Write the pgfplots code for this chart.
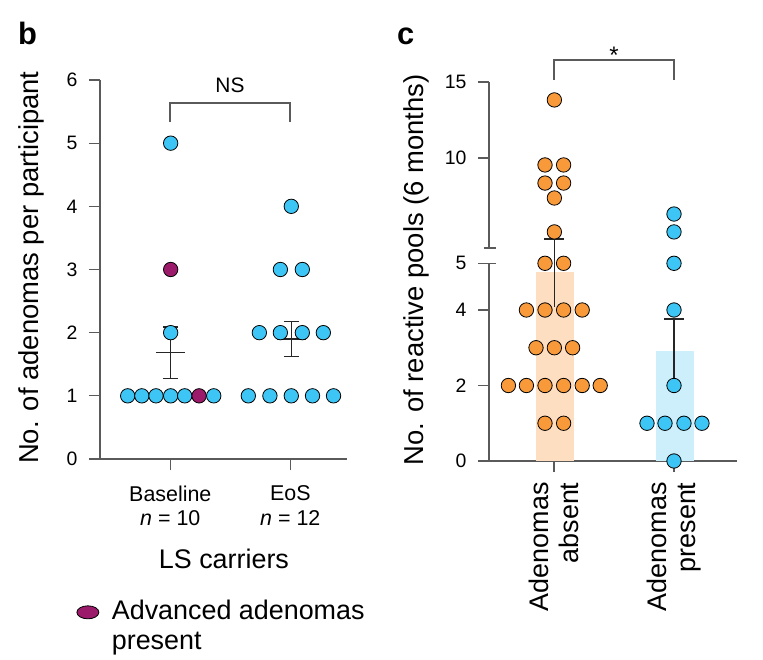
\documentclass[border=0pt]{standalone}
\usepackage{fontspec}
\setmainfont{Liberation Sans}
\usepackage{pgfplots}
\pgfplotsset{compat=1.18}

\definecolor{dotblue}{HTML}{3DC5F5}
\definecolor{dotorange}{HTML}{F8993A}
\definecolor{dotpurple}{HTML}{9B1A6A}
\definecolor{barorange}{HTML}{FDDEC1}
\definecolor{barblue}{HTML}{CDEFFB}
\definecolor{axgray}{HTML}{5A5A5A}

\pgfplotsset{
  panel/.style={
    scale only axis, clip=false,
    axis x line=bottom, axis y line=left,
    axis line style={-, axgray, line width=1.3bp},
    tick style={axgray, line width=1.3bp},
    tick align=outside, major tick length=11bp,
    /pgf/number format/assume math mode=true,
    ticklabel style={font=\fontsize{19.5}{19.5}\selectfont, text=black},
    yticklabel shift=8bp,
  },
  dot/.style={only marks, mark=*, mark size=7.2bp,
    mark options={draw=black, line width=0.8bp, fill=#1}},
  seg/.style={no marks, black!85, line width=1.2bp, forget plot},
  axseg/.style={no marks, axgray, line width=1.3bp, forget plot},
}

\begin{document}
\begin{tikzpicture}[x=1bp,y=1bp]
\useasboundingbox (0bp,0bp) rectangle (763bp,660bp);

% ---------------- panel b
\begin{axis}[panel, at={(170.3bp,201bp)}, anchor=origin,
  width=247bp, height=379bp,
  xmin=-5.86, xmax=14.72, ymin=0, ymax=6,
  xtick={0,10}, ytick={0,1,...,6},
  xticklabels={{Baseline\\\textit{n} = 10},{EoS\\\textit{n} = 12}},
  xticklabel style={align=center, font=\fontsize{21.5}{25}\selectfont},
  xticklabel shift=12bp,
  xlabel={LS carriers},
  xlabel style={at={(axis description cs:0.502,-0.2876)}, anchor=base,
    font=\fontsize{27}{27}\selectfont},
  ylabel={No. of adenomas per participant},
  ylabel style={at={(axis description cs:-0.247,0.505)}, anchor=base,
    font=\fontsize{27.5}{27.5}\selectfont},
  legend style={draw=none, fill=none, at={(axis description cs:-0.108,-0.362)},
    anchor=north west, font=\fontsize{27}{30}\selectfont,
    cells={anchor=west, align=left}},
]
% mean +- SEM
\addplot[seg] coordinates {(0,1.27) (0,2.09)};
\addplot[seg] coordinates {(-0.62,2.09) (0.62,2.09)};
\addplot[seg] coordinates {(-0.62,1.27) (0.62,1.27)};
\addplot[seg] coordinates {(-1.2,1.68) (1.2,1.68)};
\addplot[seg] coordinates {(10.08,1.62) (10.08,2.18)};
\addplot[seg] coordinates {(9.46,2.18) (10.7,2.18)};
\addplot[seg] coordinates {(9.46,1.62) (10.7,1.62)};
\addplot[seg] coordinates {(8.88,1.9) (11.28,1.9)};
% participants
\addplot[dot=dotblue, forget plot] coordinates {
  (-3.55,1) (-2.37,1) (-1.19,1) (0.03,1) (1.2,1) (3.62,1)
  (0.03,2) (0.03,5)
  (6.5,1) (8.3,1) (10.08,1) (11.85,1) (13.6,1)
  (7.42,2) (9.17,2) (11.0,2) (12.75,2)
  (9.17,3) (11.0,3)
  (10.08,4)
};
\addplot[dot=dotpurple,
  legend image code/.code={
    \path[draw=none, fill=none] (0bp,-20bp) rectangle (30bp,20bp);
    \draw[fill=dotpurple, draw=black, line width=0.8bp]
      (8bp,13.5bp) ellipse (11bp and 6.5bp);}]
  coordinates {(2.4,1) (0.03,3)};
\addlegendentry{Advanced adenomas\\present}
\end{axis}

% ---------------- panel c
\begin{axis}[panel, at={(554bp,199bp)}, anchor=origin,
  width=248bp, height=379bp,
  xmin=-5.417, xmax=15.25, ymin=0, ymax=15,
  y coord trafo/.code={\pgfmathparse{37.75*(#1)+8.95*max((#1)-4,0)-25.64*max((#1)-5,0)-5.86*max((#1)-10,0)}},
  y axis line style={draw=none},
  xtick={0,10}, ytick={0,2,4,5,10,15}, yticklabels={0,2,4,5,10,15},
  xticklabels={{Adenomas\\absent},{Adenomas\\present}},
  xticklabel style={rotate=90, anchor=east, align=right,
    font=\fontsize{27}{30}\selectfont},
  xticklabel shift=7bp,
  ylabel={No. of reactive pools (6 months)},
  ylabel style={at={(axis description cs:-0.266,0.504)}, anchor=base,
    font=\fontsize{27.5}{27.5}\selectfont},
]
% broken y axis
\addplot[axseg] coordinates {(-5.417,0) (-5.417,5)};
\addplot[axseg] coordinates {(-5.417,5.727) (-5.417,15)};
\addplot[axseg] coordinates {(-5.417,5) (-4.85,5)};
\addplot[axseg] coordinates {(-5.85,5.727) (-4.85,5.727)};
% means
\addplot[ybar, bar width=38bp, fill=barorange, draw=none, forget plot]
  coordinates {(0.08,4.82)};
\addplot[ybar, bar width=38bp, fill=barblue, draw=none, forget plot]
  coordinates {(10.08,2.91)};
% SEM
\addplot[seg] coordinates {(0.03,4.06) (0.03,6.15)};
\addplot[seg] coordinates {(-0.8,6.15) (0.86,6.15)};
\addplot[seg] coordinates {(10,2.0) (10,3.76)};
\addplot[seg] coordinates {(9.2,3.76) (10.8,3.76)};
% adenomas absent
\addplot[dot=dotorange, forget plot] coordinates {
  (0.03,13.82)
  (-0.75,9.67) (0.8,9.67)
  (-0.75,8.81) (0.8,8.81)
  (0.03,8.10)
  (0.03,6.49)
  (-0.75,5) (0.8,5)
  (-2.3,4) (-0.75,4) (0.8,4) (2.35,4)
  (-1.5,3) (0.03,3) (1.55,3)
  (-3.8,2) (-2.3,2) (-0.75,2) (0.8,2) (2.35,2) (3.85,2)
  (-0.75,1) (0.8,1)
};
% adenomas present
\addplot[dot=dotblue, forget plot] coordinates {
  (10,7.34) (10,6.49) (10,5) (10,4) (10,2)
  (7.75,1) (9.25,1) (10.83,1) (12.33,1)
  (10,0)
};
\end{axis}

% panel letters and significance brackets
\node[anchor=base west, inner sep=0pt, font=\fontsize{31}{31}\selectfont\bfseries] at (18bp,615bp) {b};
\node[anchor=base west, inner sep=0pt, font=\fontsize{31}{31}\selectfont\bfseries] at (397bp,615bp) {c};
\draw[axgray, line width=1.3bp] (170bp,538bp) |- (290bp,557bp) -- (290bp,538bp);
\node[font=\fontsize{21}{21}\selectfont] at (230bp,574.5bp) {NS};
\draw[axgray, line width=1.3bp] (554bp,580bp) |- (674bp,600bp) -- (674bp,580bp);
\node[anchor=base, font=\fontsize{24}{24}\selectfont] at (614bp,596bp) {*};
\end{tikzpicture}
\end{document}
